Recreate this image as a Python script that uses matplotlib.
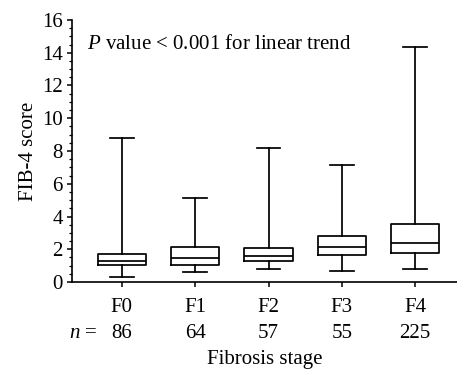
import matplotlib
matplotlib.use("Agg")
import matplotlib.pyplot as plt
from matplotlib.ticker import MultipleLocator

stages = ["F0", "F1", "F2", "F3", "F4"]
counts = [86, 64, 57, 55, 225]
whisker_low = [0.33, 0.59, 0.79, 0.67, 0.79]
q1 = [1.04, 1.06, 1.28, 1.67, 1.79]
median = [1.30, 1.45, 1.61, 2.14, 2.36]
q3 = [1.69, 2.16, 2.10, 2.83, 3.56]
whisker_high = [8.80, 5.15, 8.20, 7.15, 14.35]

plt.rcParams['font.family'] = ['Liberation Serif', 'DejaVu Serif']
plt.rcParams['mathtext.fontset'] = 'custom'
plt.rcParams['mathtext.rm'] = 'Liberation Serif'
plt.rcParams['mathtext.it'] = 'Liberation Serif:italic'
FS = 15

fig = plt.figure(figsize=(4.57, 3.70), dpi=100)
ax = fig.add_axes([0.1575, 0.2378, 0.8425, 0.7082])

stats = []
for i in range(len(stages)):
    stats.append(dict(label=stages[i], whislo=whisker_low[i], q1=q1[i], med=median[i],
                      q3=q3[i], whishi=whisker_high[i], fliers=[]))
lw = 1.25
ax.bxp(stats, positions=range(len(stages)), widths=0.66, showfliers=False,
       boxprops=dict(color='black', linewidth=lw),
       medianprops=dict(color='black', linewidth=lw),
       whiskerprops=dict(color='black', linewidth=lw),
       capprops=dict(color='black', linewidth=lw),
       capwidths=0.32)

ax.set_xlim(-0.68, 4.57)
ax.set_ylim(0, 16)
ax.yaxis.set_major_locator(MultipleLocator(2))
ax.yaxis.set_minor_locator(MultipleLocator(0.5))
for s in ['top', 'right']:
    ax.spines[s].set_visible(False)
for s in ['left', 'bottom']:
    ax.spines[s].set_linewidth(1.2)
ax.tick_params(axis='both', which='major', direction='out', length=3.5, width=1.1,
               labelsize=FS, colors='black')
ax.tick_params(axis='y', which='minor', direction='out', length=2, width=0.9)
ax.tick_params(axis='x', which='major', pad=8)
ax.tick_params(axis='y', which='major', pad=3)
ax.set_xticks(range(len(stages)))
ax.set_xticklabels(stages)

ax.set_ylabel("FIB-4 score", fontsize=FS, labelpad=3)
ax.set_xlabel("Fibrosis stage", fontsize=FS, labelpad=24)

trans = ax.get_xaxis_transform()
for i, n in enumerate(counts):
    ax.text(i, -0.197, str(n), transform=trans, ha='center', va='center', fontsize=FS)
ax.text(-0.53, -0.197, r"$n$ =", transform=trans, ha='center', va='center', fontsize=FS)

ax.text(0.04, 0.905, r"$P$ value < 0.001 for linear trend", transform=ax.transAxes,
        ha='left', va='center', fontsize=FS)

fig.savefig("out.png", dpi=100)
